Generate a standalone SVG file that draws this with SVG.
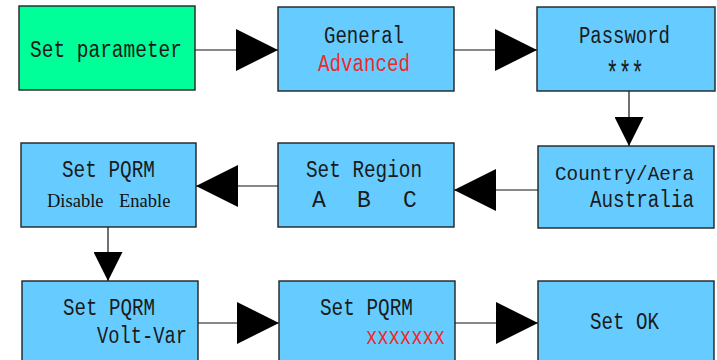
<svg xmlns="http://www.w3.org/2000/svg" width="717" height="360" viewBox="0 0 717 360">
<style>
.box{fill:#66CCFF;stroke:#222;stroke-width:1.4}
.start{fill:#00FF99;stroke:#222;stroke-width:1.4}
.t{font-family:"Liberation Mono",monospace;font-size:23px;fill:#1a1a1a}
.r{fill:#F02828}
.s{font-family:"Liberation Serif",serif;font-size:18.5px;fill:#111}
.ln{stroke:#111;stroke-width:1.2;fill:none}
</style>
<defs>
<marker id="ah" viewBox="0 0 42 42" refX="42" refY="21" markerWidth="42" markerHeight="42" markerUnits="userSpaceOnUse" orient="auto"><path d="M0,0 L42,21 L0,42 Z" fill="#000"/></marker>
<marker id="as" viewBox="0 0 29 29" refX="29" refY="14.5" markerWidth="29" markerHeight="29" markerUnits="userSpaceOnUse" orient="auto"><path d="M0,0 L29,14.5 L0,29 Z" fill="#000"/></marker>
</defs>
<rect width="717" height="360" fill="#fff"/>
<g id="connectors">
<line class="ln" x1="195" y1="50" x2="278" y2="50" marker-end="url(#ah)"/>
<line class="ln" x1="454" y1="50" x2="537" y2="50" marker-end="url(#ah)"/>
<line class="ln" x1="629" y1="91" x2="629" y2="146" marker-end="url(#as)"/>
<line class="ln" x1="538" y1="190" x2="454" y2="190" marker-end="url(#ah)"/>
<line class="ln" x1="278" y1="186" x2="196" y2="186" marker-end="url(#ah)"/>
<line class="ln" x1="108" y1="227" x2="108" y2="281" marker-end="url(#as)"/>
<line class="ln" x1="198" y1="323" x2="279" y2="323" marker-end="url(#ah)"/>
<line class="ln" x1="455" y1="323" x2="538" y2="323" marker-end="url(#ah)"/>
</g>
<g id="n1"><rect class="start" x="19" y="6" width="176" height="84"/><text class="t" x="30" y="57" textLength="152" lengthAdjust="spacingAndGlyphs">Set parameter</text></g>
<g id="n2"><rect class="box" x="278" y="7" width="176" height="84"/><text class="t" x="324" y="43" textLength="80" lengthAdjust="spacingAndGlyphs">General</text><text class="t r" x="318" y="71" textLength="92" lengthAdjust="spacingAndGlyphs">Advanced</text></g>
<g id="n3"><rect class="box" x="537" y="7" width="178" height="84"/><text class="t" x="579" y="43" textLength="91" lengthAdjust="spacingAndGlyphs">Password</text><text class="t" x="606" y="84" style="font-size:34px" textLength="38" lengthAdjust="spacingAndGlyphs">***</text></g>
<g id="n4"><rect class="box" x="538" y="146" width="176" height="82"/><text class="t" x="555" y="180" style="font-size:21px" textLength="139" lengthAdjust="spacingAndGlyphs">Country/Aera</text><text class="t" x="590" y="207" textLength="104" lengthAdjust="spacingAndGlyphs">Australia</text></g>
<g id="n5"><rect class="box" x="278" y="143" width="176" height="84"/><text class="t" x="306" y="177" textLength="116" lengthAdjust="spacingAndGlyphs">Set Region</text><text class="t" x="312" y="207">A</text><text class="t" x="357" y="207">B</text><text class="t" x="403" y="207">C</text></g>
<g id="n6"><rect class="box" x="21" y="143" width="175" height="84"/><text class="t" x="62" y="177" textLength="93" lengthAdjust="spacingAndGlyphs">Set PQRM</text><text class="s" x="47" y="207">Disable</text><text class="s r" x="119" y="207">Enable</text></g>
<g id="n7"><rect class="box" x="22" y="281" width="176" height="90"/><text class="t" x="63" y="315" textLength="92" lengthAdjust="spacingAndGlyphs">Set PQRM</text><text class="t" x="97" y="343" textLength="90" lengthAdjust="spacingAndGlyphs">Volt-Var</text></g>
<g id="n8"><rect class="box" x="279" y="281" width="176" height="90"/><text class="t" x="320" y="315" textLength="93" lengthAdjust="spacingAndGlyphs">Set PQRM</text><text class="t r" x="366" y="344" textLength="79" lengthAdjust="spacingAndGlyphs">xxxxxxx</text></g>
<g id="n9"><rect class="box" x="538" y="281" width="176" height="90"/><text class="t" x="590" y="329" textLength="69" lengthAdjust="spacingAndGlyphs">Set OK</text></g>
</svg>
